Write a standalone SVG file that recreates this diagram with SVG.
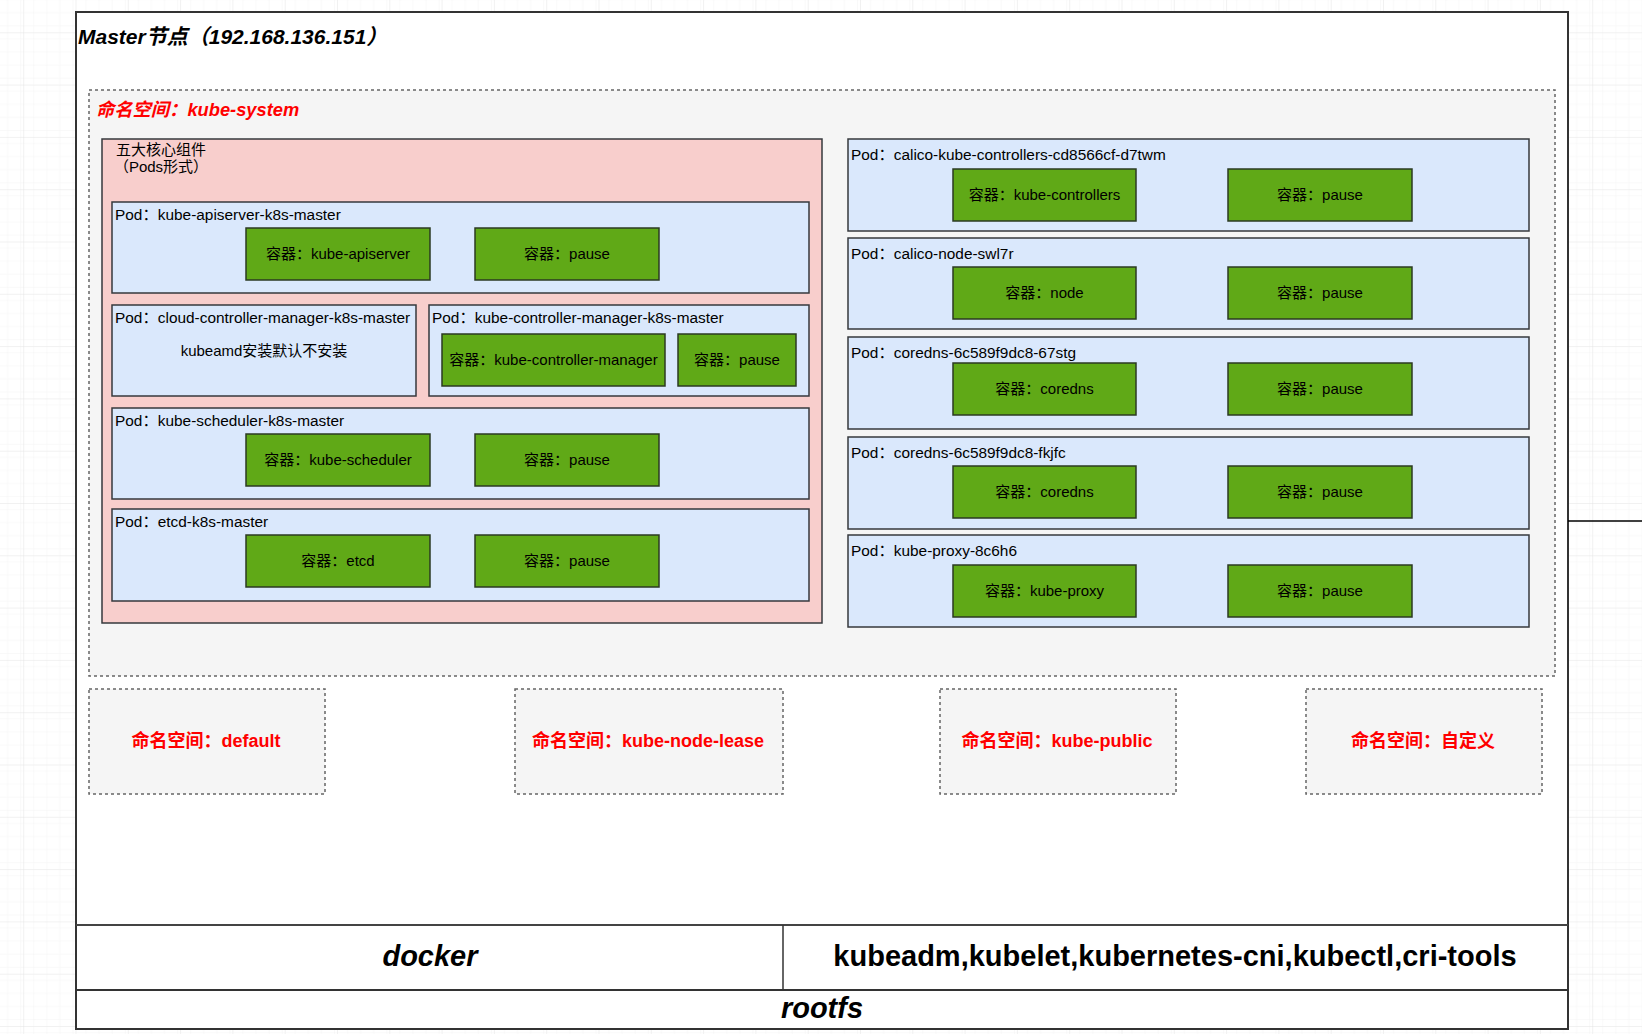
<svg xmlns="http://www.w3.org/2000/svg" width="1642" height="1034" viewBox="0 0 1642 1034">
<defs>
<pattern id="gridMinor" x="23.2" y="32.3" width="13.075" height="13.075" patternUnits="userSpaceOnUse">
<path d="M0 0H13.075M0 0V13.075" fill="none" stroke="#f3f3f3" stroke-width="1"/>
</pattern>
<pattern id="gridMajor" x="23.2" y="32.3" width="52.3" height="52.3" patternUnits="userSpaceOnUse">
<rect width="52.3" height="52.3" fill="url(#gridMinor)"/>
<path d="M0 0H52.3M0 0V52.3" fill="none" stroke="#e4e4e4" stroke-width="1"/>
</pattern>
<style>
text{font-family:"Liberation Sans","Noto Sans CJK SC",sans-serif;fill:#000}
.ns{fill:#f5f5f5;stroke:#666;stroke-width:1.5;stroke-dasharray:3 3}
.core{fill:#f8cecc;stroke:#36393d;stroke-width:1.5}
.pod{fill:#dae8fc;stroke:#36393d;stroke-width:1.5}
.ctr{fill:#60a917;stroke:#2b3a22;stroke-width:1.5}
.lbl{font-size:15.4px}
.ctxt{font-size:15px;text-anchor:middle}
.nsl{font-size:18px;font-weight:bold;fill:#ff0000;text-anchor:middle}
.big{font-size:29px;font-weight:bold;text-anchor:middle}
</style>
</defs>
<rect x="0" y="0" width="1642" height="1034" fill="#ffffff"/>
<rect x="0" y="0" width="1642" height="1034" fill="url(#gridMajor)"/>

<g id="master-node">
<rect x="76" y="12" width="1492" height="1017" fill="#ffffff" stroke="#333" stroke-width="2"/>
<text x="78" y="44" style="font-size:21px;font-weight:bold;font-style:italic">Master节点（192.168.136.151）</text>
</g>

<g id="ns-kube-system">
<rect class="ns" x="89" y="90" width="1466" height="586"/>
<text x="96" y="116" style="font-size:18.3px;font-weight:bold;font-style:italic;fill:#ff0000">命名空间：kube-system</text>
</g>

<g id="core-components">
<rect class="core" x="102" y="139" width="720" height="484"/>
<text x="161" y="155" class="ctxt">五大核心组件</text>
<text x="161" y="172" class="ctxt">（Pods形式）</text>
</g>

<g id="pod-kube-apiserver">
<rect class="pod" x="112" y="202" width="697" height="91"/>
<text class="lbl" x="115" y="220">Pod：kube-apiserver-k8s-master</text>
<rect class="ctr" x="246" y="228" width="184" height="52"/>
<text class="ctxt" x="338" y="259">容器：kube-apiserver</text>
<rect class="ctr" x="475" y="228" width="184" height="52"/>
<text class="ctxt" x="567" y="259">容器：pause</text>
</g>

<g id="pod-cloud-controller-manager">
<rect class="pod" x="112" y="305" width="304" height="91"/>
<text class="lbl" x="115" y="323">Pod：cloud-controller-manager-k8s-master</text>
<text class="ctxt" x="264" y="356">kubeamd安装默认不安装</text>
</g>

<g id="pod-kube-controller-manager">
<rect class="pod" x="429" y="305" width="380" height="91"/>
<text class="lbl" x="432" y="323">Pod：kube-controller-manager-k8s-master</text>
<rect class="ctr" x="442" y="334" width="223" height="52"/>
<text class="ctxt" x="553.5" y="365">容器：kube-controller-manager</text>
<rect class="ctr" x="678" y="334" width="118" height="52"/>
<text class="ctxt" x="737" y="365">容器：pause</text>
</g>

<g id="pod-kube-scheduler">
<rect class="pod" x="112" y="408" width="697" height="91"/>
<text class="lbl" x="115" y="426">Pod：kube-scheduler-k8s-master</text>
<rect class="ctr" x="246" y="434" width="184" height="52"/>
<text class="ctxt" x="338" y="465">容器：kube-scheduler</text>
<rect class="ctr" x="475" y="434" width="184" height="52"/>
<text class="ctxt" x="567" y="465">容器：pause</text>
</g>

<g id="pod-etcd">
<rect class="pod" x="112" y="509" width="697" height="92"/>
<text class="lbl" x="115" y="527">Pod：etcd-k8s-master</text>
<rect class="ctr" x="246" y="535" width="184" height="52"/>
<text class="ctxt" x="338" y="566">容器：etcd</text>
<rect class="ctr" x="475" y="535" width="184" height="52"/>
<text class="ctxt" x="567" y="566">容器：pause</text>
</g>

<g id="pod-calico-kube-controllers">
<rect class="pod" x="848" y="139" width="681" height="92"/>
<text class="lbl" x="851" y="160">Pod：calico-kube-controllers-cd8566cf-d7twm</text>
<rect class="ctr" x="953" y="169" width="183" height="52"/>
<text class="ctxt" x="1044.5" y="200">容器：kube-controllers</text>
<rect class="ctr" x="1228" y="169" width="184" height="52"/>
<text class="ctxt" x="1320" y="200">容器：pause</text>
</g>

<g id="pod-calico-node">
<rect class="pod" x="848" y="238" width="681" height="91"/>
<text class="lbl" x="851" y="259">Pod：calico-node-swl7r</text>
<rect class="ctr" x="953" y="267" width="183" height="52"/>
<text class="ctxt" x="1044.5" y="298">容器：node</text>
<rect class="ctr" x="1228" y="267" width="184" height="52"/>
<text class="ctxt" x="1320" y="298">容器：pause</text>
</g>

<g id="pod-coredns-67stg">
<rect class="pod" x="848" y="337" width="681" height="92"/>
<text class="lbl" x="851" y="358">Pod：coredns-6c589f9dc8-67stg</text>
<rect class="ctr" x="953" y="363" width="183" height="52"/>
<text class="ctxt" x="1044.5" y="394">容器：coredns</text>
<rect class="ctr" x="1228" y="363" width="184" height="52"/>
<text class="ctxt" x="1320" y="394">容器：pause</text>
</g>

<g id="pod-coredns-fkjfc">
<rect class="pod" x="848" y="437" width="681" height="92"/>
<text class="lbl" x="851" y="458">Pod：coredns-6c589f9dc8-fkjfc</text>
<rect class="ctr" x="953" y="466" width="183" height="52"/>
<text class="ctxt" x="1044.5" y="497">容器：coredns</text>
<rect class="ctr" x="1228" y="466" width="184" height="52"/>
<text class="ctxt" x="1320" y="497">容器：pause</text>
</g>

<g id="pod-kube-proxy">
<rect class="pod" x="848" y="535" width="681" height="92"/>
<text class="lbl" x="851" y="556">Pod：kube-proxy-8c6h6</text>
<rect class="ctr" x="953" y="565" width="183" height="52"/>
<text class="ctxt" x="1044.5" y="596">容器：kube-proxy</text>
<rect class="ctr" x="1228" y="565" width="184" height="52"/>
<text class="ctxt" x="1320" y="596">容器：pause</text>
</g>

<g id="ns-default">
<rect class="ns" x="89" y="689" width="236" height="105"/>
<text class="nsl" x="206" y="747">命名空间：default</text>
</g>
<g id="ns-kube-node-lease">
<rect class="ns" x="515" y="689" width="268" height="105"/>
<text class="nsl" x="648" y="747">命名空间：kube-node-lease</text>
</g>
<g id="ns-kube-public">
<rect class="ns" x="940" y="689" width="236" height="105"/>
<text class="nsl" x="1057" y="747">命名空间：kube-public</text>
</g>
<g id="ns-custom">
<rect class="ns" x="1306" y="689" width="236" height="105"/>
<text class="nsl" x="1423" y="747">命名空间：自定义</text>
</g>

<g id="runtime-layer">
<line x1="76" y1="925" x2="1568" y2="925" stroke="#444" stroke-width="2"/>
<line x1="783" y1="925" x2="783" y2="990" stroke="#333" stroke-width="1.5"/>
<text class="big" x="430" y="966" style="font-style:italic">docker</text>
<text class="big" x="1175" y="966">kubeadm,kubelet,kubernetes-cni,kubectl,cri-tools</text>
</g>
<g id="rootfs-layer">
<line x1="76" y1="990" x2="1568" y2="990" stroke="#333" stroke-width="2"/>
<text class="big" x="822" y="1018" style="font-style:italic">rootfs</text>
</g>

<g id="connectors">
<line x1="1568" y1="521" x2="1642" y2="521" stroke="#000" stroke-width="1.5"/>
</g>
</svg>
